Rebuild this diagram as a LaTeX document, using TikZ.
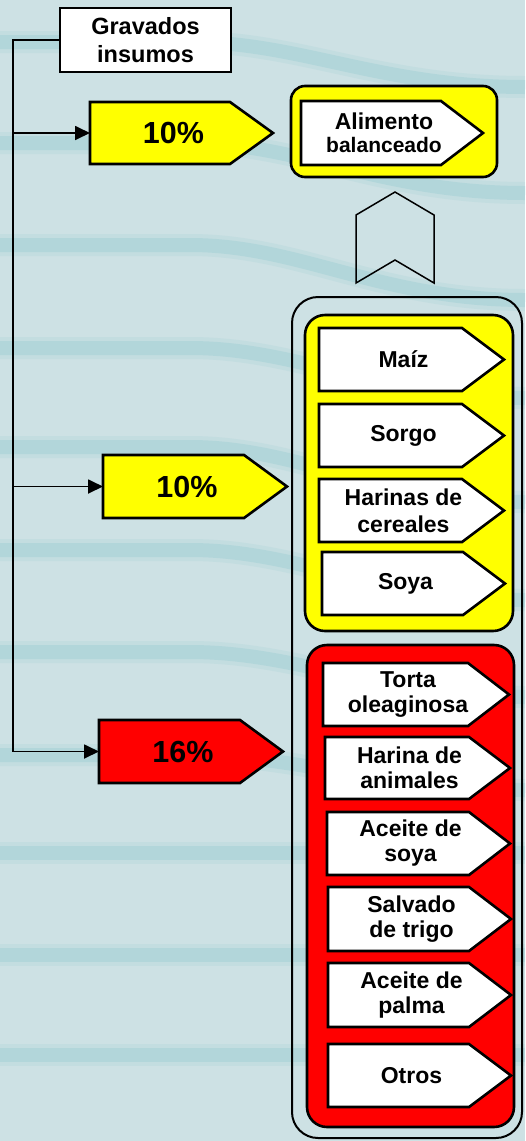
\documentclass[tikz,border=0pt]{standalone}
\usepackage{fontspec}
\setmainfont{Liberation Sans}
\usetikzlibrary{arrows.meta}
\definecolor{bgc}{HTML}{CDE1E4}
\definecolor{stripec}{HTML}{A7D2D7}
\definecolor{yel}{HTML}{FFFF00}
\definecolor{rd}{HTML}{FF0000}
\tikzset{
  pentline/.style={draw=black, line width=2.6pt, line join=miter},
  lbl/.style={inner sep=0pt, align=center, font=\bfseries\fontsize{23}{25}\selectfont},
  pct/.style={inner sep=0pt, font=\bfseries\fontsize{30.5}{32}\selectfont},
  conn/.style={line width=1.8pt},
  arr/.style={conn, -{Triangle[length=15pt,width=14pt]}},
  stripe/.style={stripec, line width=14pt, opacity=0.6, line cap=butt},
  stripesoft/.style={stripec, line width=22pt, opacity=0.25, line cap=butt},
}
% #1 name, #2 left, #3 top, #4 notch, #5 tip, #6 bottom, #7 fill, #8 text, #9 text style
\newcommand{\pentbox}[9]{%
  \draw[pentline, fill=#7] (#2,#3) -- (#4,#3) -- (#5,{(#3+#6)/2}) -- (#4,#6) -- (#2,#6) -- cycle;
  \coordinate (#1-w) at (#2,{(#3+#6)/2});
  \node[#9] (#1) at ({(#2+#5)/2-8},{(#3+#6)/2}) {#8};
}
\begin{document}
\begin{tikzpicture}[x=1pt,y=-1pt]
\useasboundingbox (0,0) rectangle (525,1141);
% background
\fill[bgc] (0,0) rectangle (525,1141);
\foreach \yy/\dd in {42/45,143/50,245/55,348/50,447/55,550/50,652/45,755/35} {
  \draw[stripesoft] (0,\yy) -- (190,\yy) .. controls (300,\yy) and (380,\yy+\dd) .. (525,\yy+\dd);
  \draw[stripe] (0,\yy) -- (190,\yy) .. controls (300,\yy) and (380,\yy+\dd) .. (525,\yy+\dd);
}
\foreach \yy in {853,955,1055} {
  \draw[stripesoft] (0,\yy) -- (525,\yy);
  \draw[stripe] (0,\yy) -- (525,\yy);
}
% title box
\node[draw, line width=2.8pt, fill=white, minimum width=171pt, minimum height=64pt, inner sep=0pt,
      align=center, font=\bfseries\fontsize{23.5}{28}\selectfont] (grav) at (145.5,40) {Gravados\\insumos};
% top group
\draw[line width=2.6pt, fill=yel, rounded corners=14pt] (291,86) rectangle (497,177);
\pentbox{alim}{301}{101}{441}{483}{165}{white}{Alimento\\[-2pt]{\fontsize{21}{23}\selectfont balanceado}}{lbl}
% chevron
\draw[line width=1.5pt, line join=miter] (395,192) -- (434,215) -- (434,283) -- (395,260) -- (356,283) -- (356,215) -- cycle;
% outer group
\draw[line width=2pt, rounded corners=26pt] (292,297) rectangle (522,1138);
% yellow group
\draw[line width=2.6pt, fill=yel, rounded corners=20pt] (305,315) rectangle (513,631);
\pentbox{maiz}{319}{328}{462}{504}{391}{white}{Maíz}{lbl}
\pentbox{sorgo}{319}{404}{462}{504}{467}{white}{Sorgo}{lbl}
\pentbox{harc}{319}{479}{462}{504}{542}{white}{Harinas de\\[2pt]cereales}{lbl}
\pentbox{soya}{322}{552}{463}{505}{615}{white}{Soya}{lbl}
% red group
\draw[line width=2.6pt, fill=rd, rounded corners=20pt] (307,645) rectangle (514,1127);
\pentbox{torta}{323}{663}{468}{509}{726}{white}{Torta\\oleaginosa}{lbl}
\pentbox{hanim}{325}{737}{469}{510}{799}{white}{Harina de\\animales}{lbl}
\pentbox{asoya}{327}{812}{469}{510}{875}{white}{Aceite de\\soya}{lbl}
\pentbox{salv}{328}{887}{469}{511}{951}{white}{Salvado\\de trigo}{lbl}
\pentbox{apalm}{328}{963}{469}{511}{1027}{white}{Aceite de\\palma}{lbl}
\pentbox{otros}{328}{1044}{469}{511}{1107}{white}{Otros}{lbl}
% percentage arrows
\pentbox{p1}{90}{102}{230}{273}{164}{yel}{10\%}{pct}
\pentbox{p2}{103}{455}{244}{287}{518}{yel}{10\%}{pct}
\pentbox{p3}{99}{720}{240}{283}{783}{rd}{16\%}{pct}
% connectors
\coordinate (ctop) at (13,40);
\coordinate (c1) at (13,133);
\coordinate (c2) at (13,486.5);
\coordinate (c3) at (13,751.5);
\draw[conn] (grav.west) -- (ctop) -- (c3);
\draw[arr] (c1) -- (p1-w);
\draw[arr] (c2) -- (p2-w);
\draw[arr] (c3) -- (p3-w);
\end{tikzpicture}
\end{document}
